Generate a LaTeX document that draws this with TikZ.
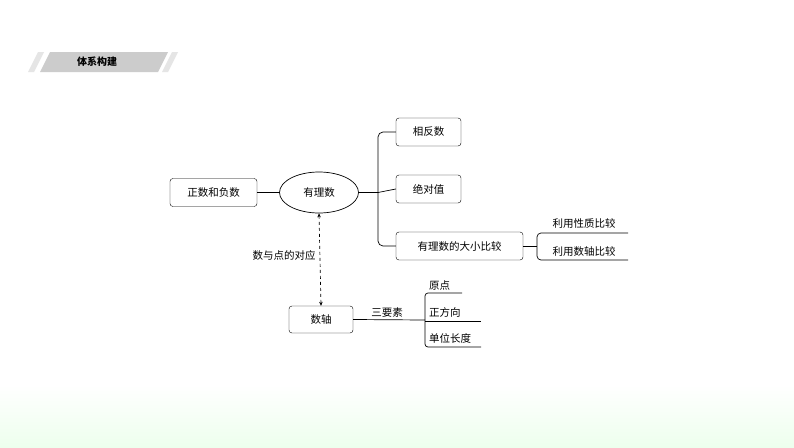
\documentclass[tikz,border=0pt]{standalone}
\usepackage{fontspec}
\setmainfont{Noto Sans CJK SC}
\usetikzlibrary{arrows.meta,shapes.geometric}
\begin{document}
\begin{tikzpicture}[x=1pt,y=-1pt,
  box/.style={draw,rounded corners=3pt,minimum height=28pt,inner sep=2pt,font=\fontsize{10.5}{12}\selectfont},
  lbl/.style={font=\fontsize{10.5}{12}\selectfont,inner sep=1pt},
  ln/.style={line width=0.7pt}]
\useasboundingbox (0,0) rectangle (794,447);
\fill[white] (0,0) rectangle (794,447);
\shade[top color=white,bottom color=green!7!white] (0,385) rectangle (794,447);
\fill[gray!20] (28,72) -- (38,52) -- (44,52) -- (34,72) -- cycle;
\fill[gray!40] (40,72) -- (50,52) -- (168,52) -- (158,72) -- cycle;
\fill[gray!20] (162,72) -- (172,52) -- (178,52) -- (168,72) -- cycle;
\node[font=\fontsize{10}{12}\selectfont\bfseries] (hd) at (97,62) {体系构建};
\node[box,minimum width=87pt] (zf) at (213.5,192.5) {正数和负数};
\node[draw,ellipse,ln,minimum width=79pt,minimum height=41pt,font=\fontsize{10.5}{12}\selectfont] (yl) at (319,192.5) {有理数};
\node[box,minimum width=65pt] (xf) at (428.5,132) {相反数};
\node[box,minimum width=65pt] (jd) at (428.5,189) {绝对值};
\node[box,minimum width=127pt] (dx) at (459.5,246) {有理数的大小比较};
\node[box,minimum width=64pt,minimum height=27pt] (sz) at (321,319.5) {数轴};
\draw[ln] (zf) -- (yl);
\coordinate (t) at (378,192.5);
\draw[ln] (yl.east) -- (t);
\draw[ln,rounded corners=5pt] (xf.west) -| (378,192.5) |- (dx.west);
\draw[ln] (t) -- (jd.west);
\coordinate (b1) at (537,246);
\draw[ln] (dx.east) -- (b1);
\draw[ln,rounded corners=4pt] (628,233) -- (537,233) -- (537,260) -- (628,260);
\node[lbl] (l1) at (584,224) {利用性质比较};
\node[lbl] (l2) at (584,252) {利用数轴比较};
\draw[ln,dashed,{Stealth[length=4pt,width=3.5pt]}-{Stealth[length=4pt,width=3.5pt]}] (yl.south) -- (sz.north);
\node[lbl] (dy) at (284,256) {数与点的对应};
\coordinate (b2) at (425,320);
\draw[ln] (sz.east) -- (b2);
\node[lbl] (sy) at (387,312) {三要素};
\draw[ln,rounded corners=3pt] (462,293) -- (425,293) -- (425,347) -- (481,347);
\draw[ln] (425,321) -- (481,321);
\node[lbl,anchor=west] (yd) at (428,285) {原点};
\node[lbl,anchor=west] (zfx) at (428,312) {正方向};
\node[lbl,anchor=west] (dw) at (428,338) {单位长度};
\end{tikzpicture}
\end{document}
